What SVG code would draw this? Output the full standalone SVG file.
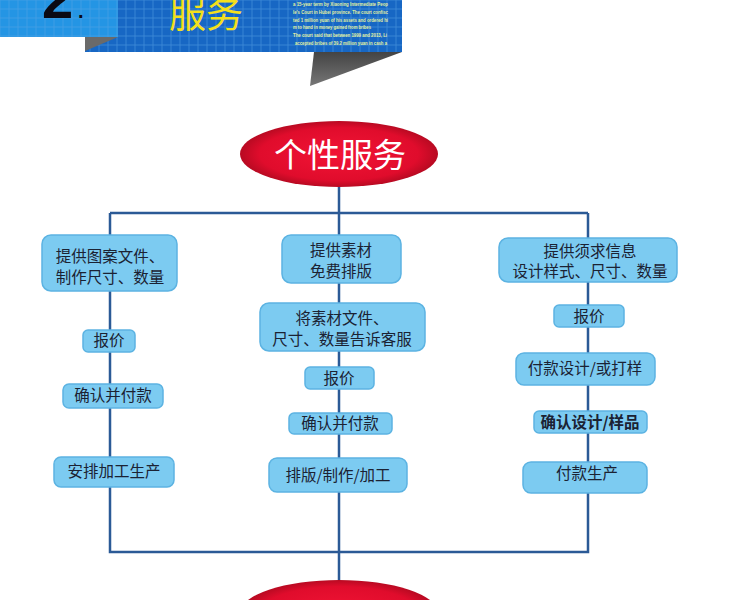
<svg xmlns="http://www.w3.org/2000/svg" width="750" height="600" viewBox="0 0 750 600">
<style>
.ln{stroke:#2b5a96;stroke-width:2.5;fill:none}
.bx{fill:#7ccbf1;stroke:#5cb3e2;stroke-width:1.5}
.t{font-family:"Noto Sans CJK SC","Noto Sans",sans-serif;font-size:15.5px;fill:#1b2233;text-anchor:middle}
.b{font-weight:bold}
.e{font-family:"Noto Sans CJK SC","Noto Sans",sans-serif;font-size:33px;fill:#ffffff;text-anchor:middle}
.sm{font-family:"Liberation Sans",sans-serif;font-size:5.3px;fill:#e4f2a0;font-weight:bold}
</style>
<defs>
<pattern id="grid" width="9" height="9" patternUnits="userSpaceOnUse">
<rect width="9" height="9" fill="none" stroke="#5aa4e6" stroke-width="0.8" stroke-opacity="0.6"/>
</pattern>
<radialGradient id="red" cx="0.5" cy="0.5" r="0.5">
<stop offset="0" stop-color="#f21435"/>
<stop offset="0.8" stop-color="#e00c2c"/>
<stop offset="1" stop-color="#b80a22"/>
</radialGradient>
<linearGradient id="grey" x1="0" y1="0" x2="0" y2="1">
<stop offset="0" stop-color="#444"/>
<stop offset="1" stop-color="#777"/>
</linearGradient>
</defs>
<rect width="750" height="600" fill="#ffffff"/>
<g id="header">
<polygon points="314,52 402,52 310,86" fill="url(#grey)"/>
<rect x="85" y="0" width="317" height="52" fill="#1767c4"/>
<rect x="85" y="0" width="317" height="52" fill="url(#grid)"/>
<polygon points="85,37 118,37 85,51" fill="#6a6a6a"/>
<rect x="0" y="0" width="118" height="37" fill="#2495e4"/>
<rect x="0" y="0" width="118" height="37" fill="url(#grid)"/>
<text x="42" y="18" font-family="Liberation Sans,sans-serif" font-weight="bold" font-size="56" fill="#0a0a14">2</text>
<text x="78" y="18" font-family="Liberation Sans,sans-serif" font-weight="bold" font-size="20" fill="#0a0a14">.</text>
<text x="206" y="28" font-family="Noto Sans CJK SC,sans-serif" font-size="37" fill="#f4e01c" text-anchor="middle">服务</text>
<text class="sm" x="293" y="6" textLength="95" lengthAdjust="spacingAndGlyphs">a 15-year term by Xiaoning Intermediate Peop</text>
<text class="sm" x="293" y="14" textLength="95" lengthAdjust="spacingAndGlyphs">le's Court in Hubei province. The court confisc</text>
<text class="sm" x="293" y="22" textLength="95" lengthAdjust="spacingAndGlyphs">ted 1 million yuan of his assets and ordered hi</text>
<text class="sm" x="293" y="29" textLength="78" lengthAdjust="spacingAndGlyphs">m to hand in money gained from bribes</text>
<text class="sm" x="293" y="37" textLength="94" lengthAdjust="spacingAndGlyphs">The court said that between 1999 and 2013, Li</text>
<text class="sm" x="295" y="45" textLength="92" lengthAdjust="spacingAndGlyphs">accepted bribes of 39.2 million yuan in cash a</text>
</g>
<g id="connectors">
<path class="ln" d="M339,186 V213 M110,213 H588 M110,213 V552 H588 V213 M339,213 V580"/>
</g>
<g id="top-ellipse">
<ellipse cx="339" cy="154" rx="99" ry="33" fill="url(#red)"/>
<text class="e" x="340" y="167">个性服务</text>
</g>
<g id="bottom-ellipse">
<ellipse cx="339" cy="613" rx="99" ry="33" fill="url(#red)"/>
</g>
<g id="l1"><rect class="bx" x="42" y="235" width="135" height="56" rx="9"/><text class="t" x="110" y="262">提供图案文件、</text><text class="t" x="110" y="283">制作尺寸、数量</text></g>
<g id="l2"><rect class="bx" x="83" y="330" width="52" height="22" rx="5"/><text class="t" x="109" y="346">报价</text></g>
<g id="l3"><rect class="bx" x="63" y="384" width="100" height="24" rx="6"/><text class="t" x="113" y="401">确认并付款</text></g>
<g id="l4"><rect class="bx" x="54" y="457" width="120" height="30" rx="7"/><text class="t" x="114" y="477">安排加工生产</text></g>
<g id="m1"><rect class="bx" x="282" y="235" width="119" height="48" rx="9"/><text class="t" x="341" y="256">提供素材</text><text class="t" x="341" y="277">免费排版</text></g>
<g id="m2"><rect class="bx" x="260" y="303" width="165" height="48" rx="9"/><text class="t" x="342" y="324">将素材文件、</text><text class="t" x="342" y="345">尺寸、数量告诉客服</text></g>
<g id="m3"><rect class="bx" x="305" y="367" width="69" height="22" rx="5"/><text class="t" x="339" y="384">报价</text></g>
<g id="m4"><rect class="bx" x="289" y="413" width="103" height="21" rx="5"/><text class="t" x="340" y="429">确认并付款</text></g>
<g id="m5"><rect class="bx" x="269" y="458" width="138" height="34" rx="8"/><text class="t" x="338" y="481">排版/制作/加工</text></g>
<g id="r1"><rect class="bx" x="499" y="238" width="178" height="44" rx="9"/><text class="t" x="590" y="257">提供须求信息</text><text class="t" x="590" y="277">设计样式、尺寸、数量</text></g>
<g id="r2"><rect class="bx" x="554" y="305" width="70" height="22" rx="5"/><text class="t" x="589" y="322">报价</text></g>
<g id="r3"><rect class="bx" x="516" y="353" width="139" height="32" rx="8"/><text class="t" x="585" y="374">付款设计/或打样</text></g>
<g id="r4"><rect class="bx" x="534" y="411" width="113" height="22" rx="5"/><text class="t b" x="590" y="428">确认设计/样品</text></g>
<g id="r5"><rect class="bx" x="523" y="462" width="124" height="31" rx="8"/><text class="t" x="587" y="479">付款生产</text></g>
</svg>
